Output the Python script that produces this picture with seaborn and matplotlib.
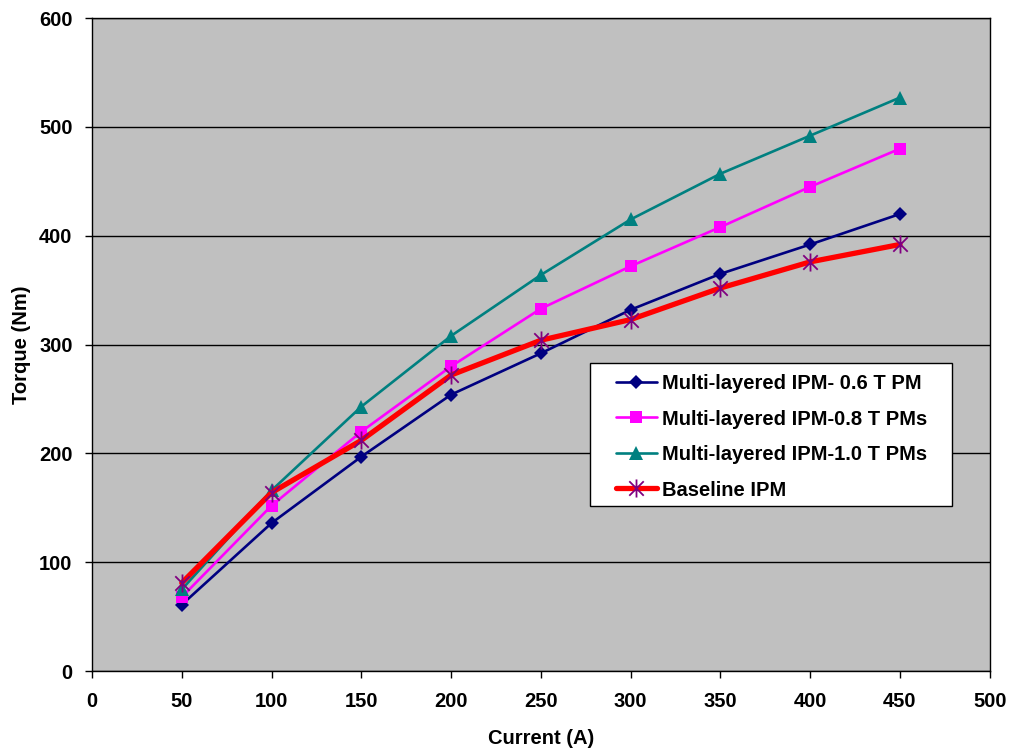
import numpy as np
import pandas as pd
import matplotlib
matplotlib.use("Agg")
import matplotlib.pyplot as plt
from matplotlib.path import Path
from matplotlib.lines import Line2D
from matplotlib.patches import Rectangle
import seaborn as sns

current = [50, 100, 150, 200, 250, 300, 350, 400, 450]
ipm_06 = [61, 136, 197, 254, 292, 332, 365, 392, 420]
ipm_08 = [68, 152, 220, 280, 333, 372, 408, 445, 480]
ipm_10 = [75, 166, 243, 308, 364, 415, 457, 492, 527]
baseline = [81, 164, 212, 272, 304, 323, 352, 376, 392]

labels = ["Multi-layered IPM- 0.6 T PM",
          "Multi-layered IPM-0.8 T PMs",
          "Multi-layered IPM-1.0 T PMs",
          "Baseline IPM"]
x_ticks = [0, 50, 100, 150, 200, 250, 300, 350, 400, 450, 500]
y_ticks = [0, 100, 200, 300, 400, 500, 600]

sns.set_theme(style="white")
plt.rcParams["font.family"] = ["Liberation Sans", "DejaVu Sans"]
plt.rcParams["font.weight"] = "bold"
plt.rcParams["text.color"] = "black"
plt.rcParams["axes.labelcolor"] = "black"
plt.rcParams["xtick.color"] = "black"
plt.rcParams["ytick.color"] = "black"

FS = 14.5
W, H = 1011, 754

# asterisk marker: vertical stroke plus two diagonals
star = Path([(0, -1), (0, 1), (-0.8, -0.8), (0.8, 0.8), (-0.8, 0.8), (0.8, -0.8)],
            [Path.MOVETO, Path.LINETO, Path.MOVETO, Path.LINETO, Path.MOVETO, Path.LINETO])

styles = [
    dict(color="#000080", lw=1.9, marker="D", ms=7.5, mfc="#000080", mec="#000080", mew=0),
    dict(color="#FF00FF", lw=1.9, marker="s", ms=9, mfc="#FF00FF", mec="#FF00FF", mew=0),
    dict(color="#008080", lw=1.9, marker="^", ms=10, mfc="#008080", mec="#008080", mew=0),
    dict(color="#FF0000", lw=3.8, marker=star, ms=13, mfc="none", mec="#800080", mew=1.3),
]
series = [ipm_06, ipm_08, ipm_10, baseline]

fig = plt.figure(figsize=(W / 100, H / 100), dpi=100)
ax = fig.add_axes([0.091, 0.110, 0.888, 0.866])
ax.set_facecolor("#C0C0C0")

handles = []
for lab, vals, st in zip(labels, series, styles):
    df = pd.DataFrame({"Current (A)": current, "Torque (Nm)": vals})
    sns.lineplot(data=df, x="Current (A)", y="Torque (Nm)", ax=ax,
                 color=st["color"], linewidth=st["lw"], marker=st["marker"],
                 markersize=st["ms"], markerfacecolor=st["mfc"],
                 markeredgecolor=st["mec"], markeredgewidth=st["mew"], zorder=3)
    handles.append(Line2D([], [], color=st["color"], lw=st["lw"], marker=st["marker"],
                          ms=st["ms"], mfc=st["mfc"], mec=st["mec"], mew=st["mew"]))

ax.set_xlim(0, 500)
ax.set_ylim(0, 600)
ax.set_xticks(x_ticks)
ax.set_yticks(y_ticks)
ax.set_xticklabels([str(t) for t in x_ticks], fontsize=FS, fontweight="bold")
ax.set_yticklabels([str(t) for t in y_ticks], fontsize=FS, fontweight="bold")
ax.yaxis.grid(True, color="black", linewidth=1.0, zorder=1)
ax.set_axisbelow(True)
ax.tick_params(axis="both", which="major", direction="out", length=5, width=1,
               color="black", labelcolor="black", bottom=True, left=True)
ax.tick_params(axis="x", pad=10)
ax.tick_params(axis="y", pad=9)
for sp in ax.spines.values():
    sp.set_color("black")
    sp.set_linewidth(1.0)

ax.set_xlabel("Current (A)", fontsize=FS, fontweight="bold", labelpad=13, color="black")
ax.set_ylabel("Torque (Nm)", fontsize=FS, fontweight="bold", labelpad=6, color="black")

# legend box
frame = Rectangle((590 / W, 1 - 506 / H), (952 - 590) / W, (506 - 363) / H,
                  transform=fig.transFigure, facecolor="white", edgecolor="black",
                  linewidth=1.0, zorder=4, clip_on=False)
ax.add_patch(frame)

leg = ax.legend(handles, labels, loc="upper left",
                bbox_to_anchor=(616 / W, 1 - 374 / H), bbox_transform=fig.transFigure,
                frameon=False, fontsize=FS,
                handlelength=2.03, handletextpad=0.25, labelspacing=0.82,
                borderpad=0, borderaxespad=0)
leg.set_zorder(5)
for t in leg.get_texts():
    t.set_fontweight("bold")
    t.set_color("black")

fig.savefig("out.png", dpi=100, facecolor="white")
